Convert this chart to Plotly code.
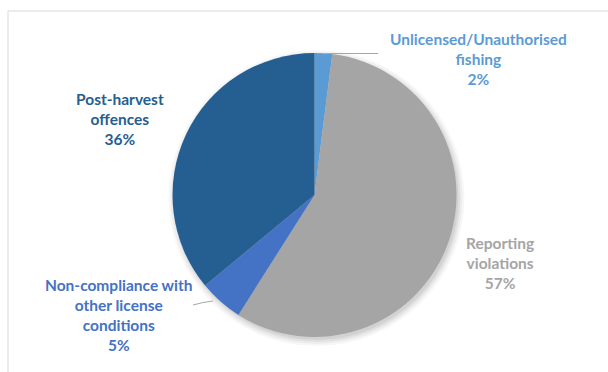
import plotly.graph_objects as go

# Offence categories, clockwise from 12 o'clock
categories = [
    "Unlicensed/Unauthorised<br>fishing",
    "Reporting<br>violations",
    "Non-compliance with<br>other license<br>conditions",
    "Post-harvest<br>offences",
]
shares = [2, 57, 5, 36]
colors = ["#5B9BD5", "#A5A5A5", "#4472C4", "#255E91"]

W, H = 608, 372
CX, CY, R = 314.5, 195, 142  # pie centre / radius in pixels

def px(x):
    return x / W

def py(y):
    return 1 - y / H

fig = go.Figure()
fig.add_trace(go.Pie(
    labels=categories,
    values=shares,
    sort=False,
    direction="clockwise",
    rotation=0,
    marker=dict(colors=colors, line=dict(width=0)),
    textinfo="none",
    hoverinfo="label+percent",
    showlegend=False,
    domain=dict(x=[px(CX - R), px(CX + R)], y=[py(CY + R), py(CY - R)]),
))

# label anchor points (pixel centres of each text block)
label_pos = [(478, 59), (500, 263), (119, 315), (120, 119)]
font_family = "Lato, 'Open Sans', sans-serif"
for name, val, col, (lx, ly) in zip(categories, shares, colors, label_pos):
    fig.add_annotation(
        x=px(lx), y=py(ly), xref="paper", yref="paper",
        text=f"<b>{name}<br>{val}%</b>",
        showarrow=False, xanchor="center", yanchor="middle",
        font=dict(family=font_family, size=15.5, color=col),
        align="center",
    )

shapes = []
# soft drop shadow under the pie
for k, a in [(6, 0.03), (4, 0.04), (2, 0.05), (0, 0.06)]:
    shapes.append(dict(
        type="circle", xref="paper", yref="paper", layer="below",
        x0=px(CX + 2 - R - k), x1=px(CX + 2 + R + k),
        y0=py(CY + 3 + R + k), y1=py(CY + 3 - R - k),
        fillcolor=f"rgba(0,0,0,{a})", line=dict(width=0),
    ))
# chart frame (left and top edges)
shapes.append(dict(type="line", xref="paper", yref="paper",
                   x0=px(8), x1=px(8), y0=py(11), y1=0,
                   line=dict(color="#D9D9D9", width=1)))
shapes.append(dict(type="line", xref="paper", yref="paper",
                   x0=px(8), x1=1, y0=py(11), y1=py(11),
                   line=dict(color="#D9D9D9", width=1)))
# leader lines
shapes.append(dict(type="line", xref="paper", yref="paper",
                   x0=px(326), x1=px(378), y0=py(53.5), y1=py(53.5),
                   line=dict(color="#A6A6A6", width=1)))
shapes.append(dict(type="path", xref="paper", yref="paper",
                   path=f"M {px(193)} {py(305)} Q {px(203)} {py(302)} {px(213)} {py(301)}",
                   line=dict(color="#A6A6A6", width=1)))

fig.update_layout(
    width=W, height=H,
    margin=dict(l=0, r=0, t=0, b=0),
    paper_bgcolor="white",
    plot_bgcolor="white",
    shapes=shapes,
)

fig.write_html("out.html")
